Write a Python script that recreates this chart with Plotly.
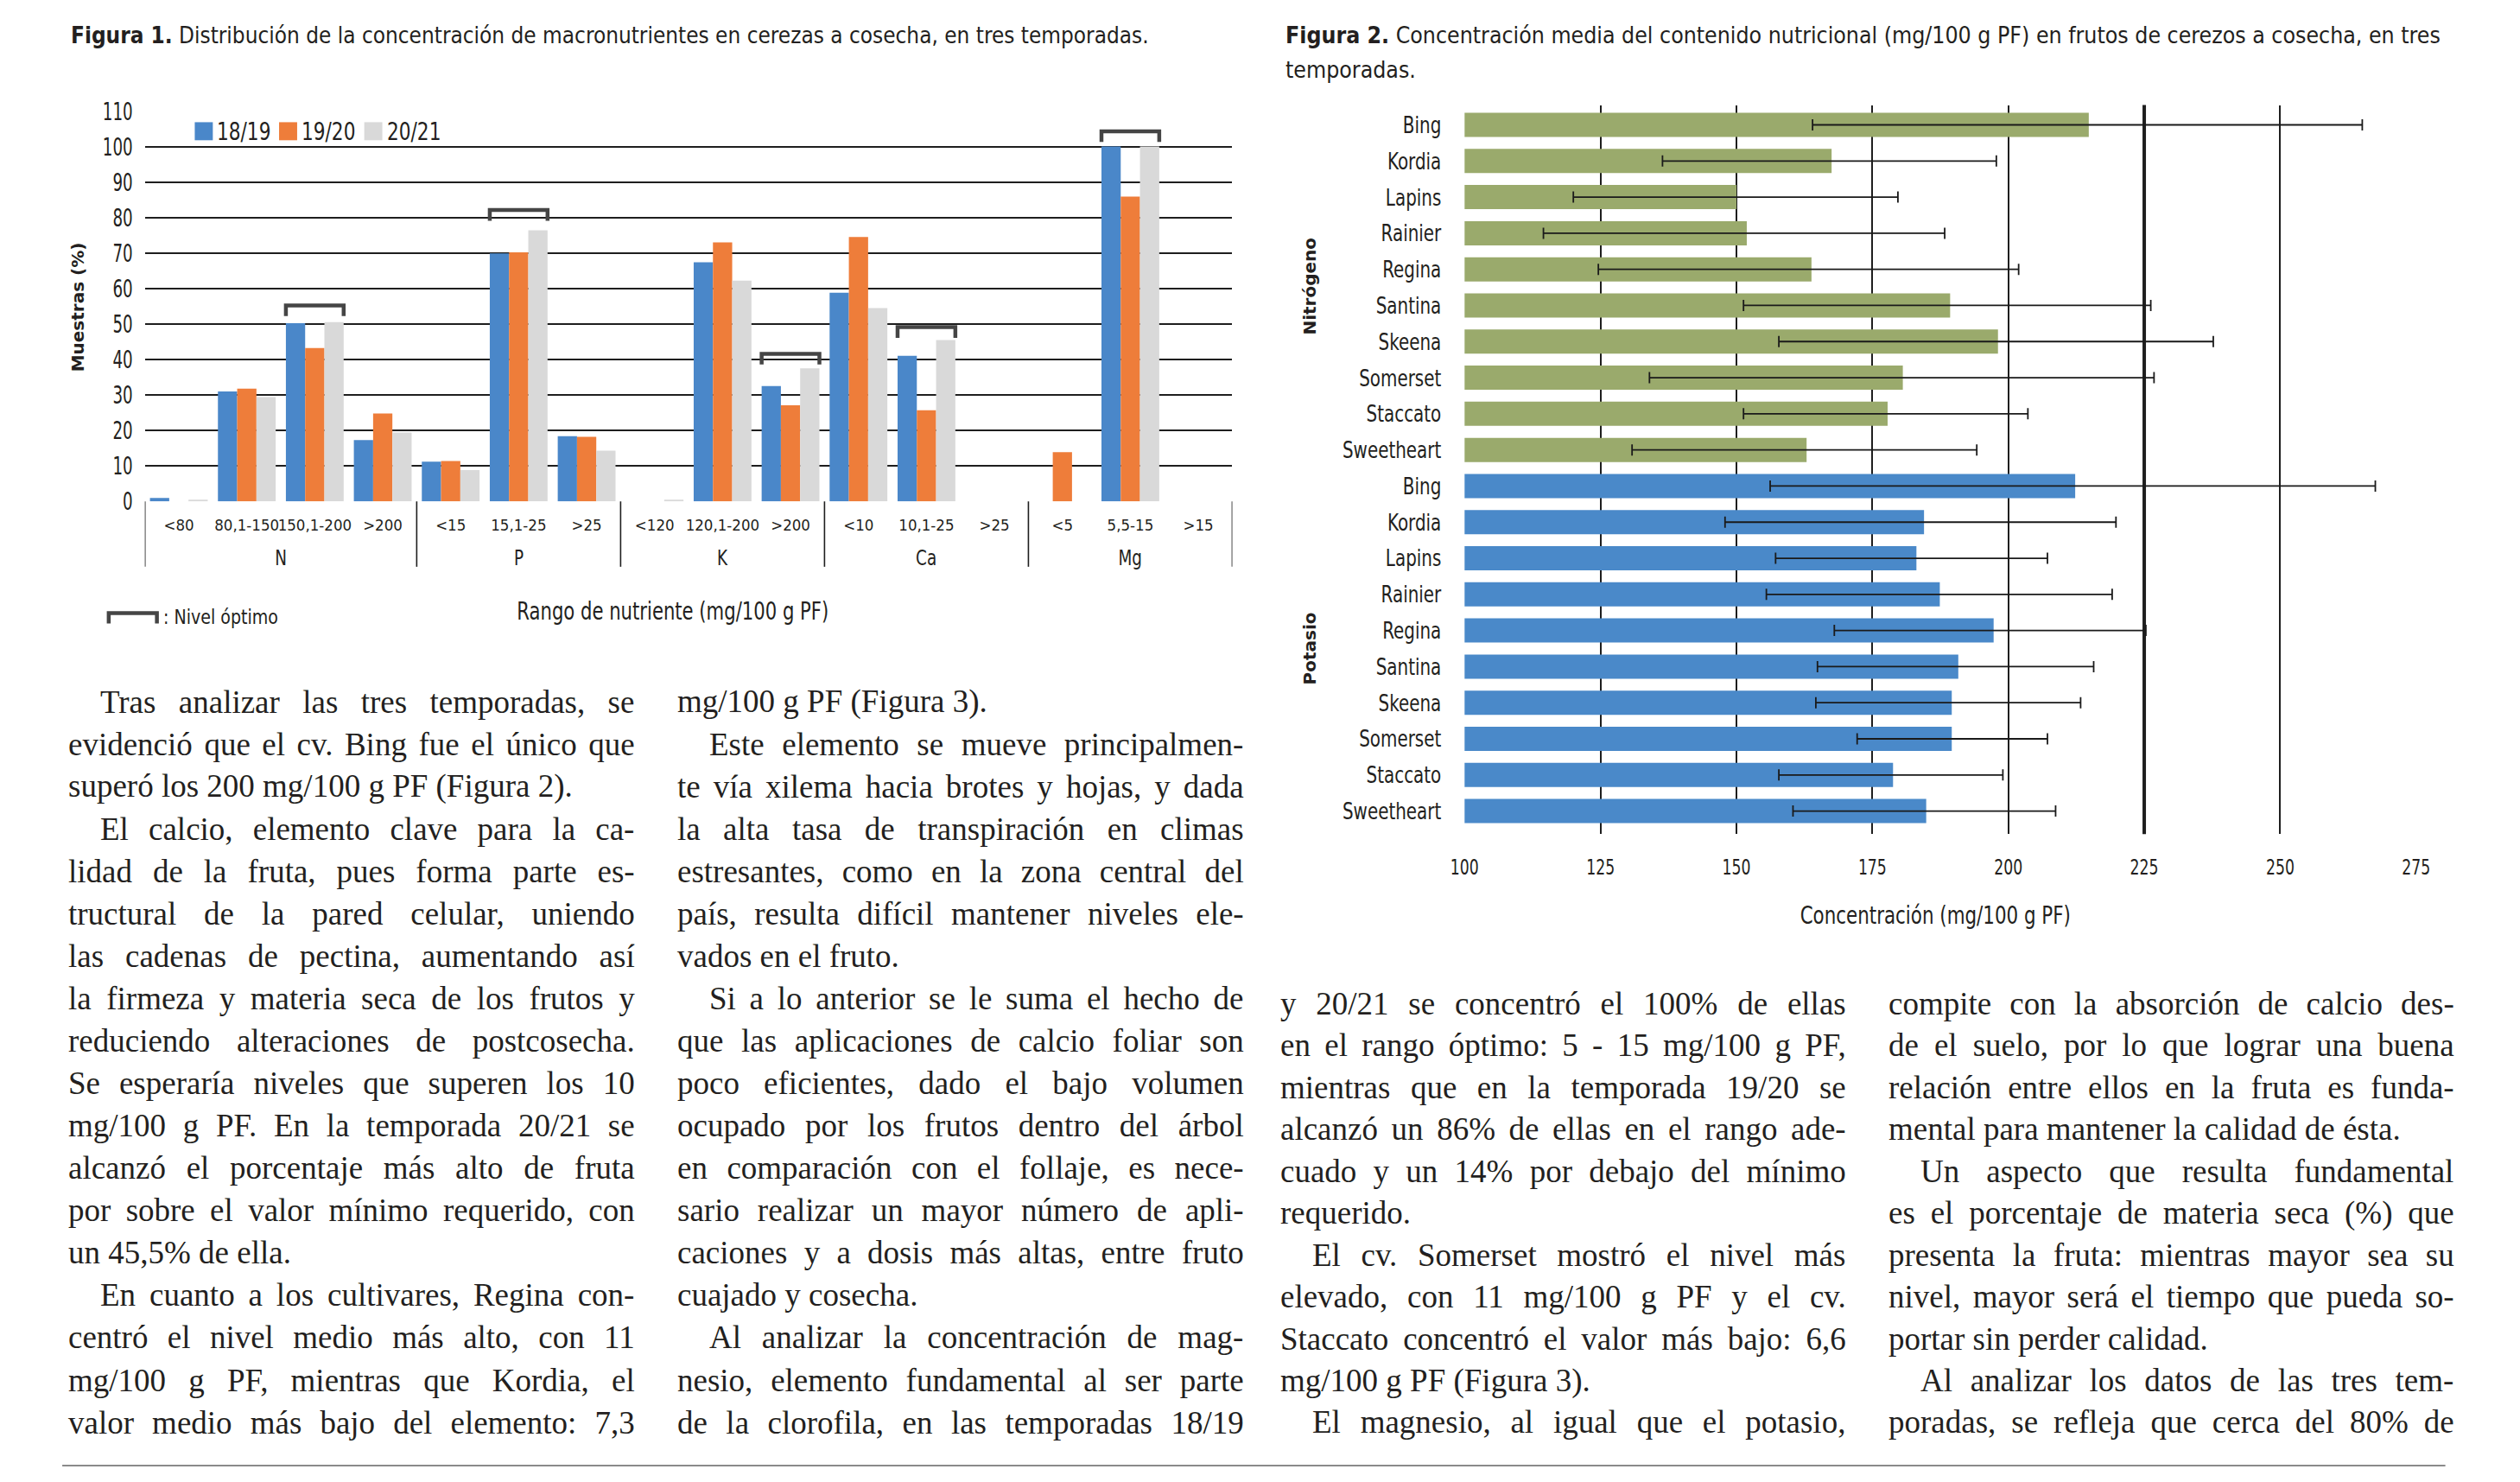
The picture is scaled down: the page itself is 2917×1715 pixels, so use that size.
import plotly.graph_objects as go

W, H = 2917, 1715
SANS = "DejaVu Sans Condensed, DejaVu Sans, sans-serif"
WIDE = "DejaVu Sans, Verdana, sans-serif"
SERIF = "Liberation Serif, Times New Roman, serif"
INK = "#231F20"
GRID = "#1E1E1E"


def cond(pct):
    # font family with a marker telling the page script how much to condense the text
    return f"{SANS}, cond-{pct}"


# page-position helpers: reference pixel -> paper fraction (small calibration of the capture)
def px_x(r):
    return 1.0104 * r - 18.9


def px_y(r):
    return min(1.0152 * r - 15.2, 1713)


def fx(r):
    return px_x(r) / W


def fy(r):
    return 1 - px_y(r) / H


# ---------------- Figure 1 data ----------------
sub_labels = ["<80", "80,1-150", "150,1-200", ">200",
              "<15", "15,1-25", ">25",
              "<120", "120,1-200", ">200",
              "<10", "10,1-25", ">25",
              "<5", "5,5-15", ">15"]
groups = ["N", "P", "K", "Ca", "Mg"]
group_sizes = [4, 3, 3, 3, 3]
seasons = ["18/19", "19/20", "20/21"]
season_colors = ["#4A87C9", "#EE7D3A", "#D9D9D9"]
s1819 = [1.0, 31.0, 50.2, 17.3, 11.2, 69.9, 18.4, 0.0, 67.4, 32.5, 58.8, 41.0, 0.0, 0.0, 100.0, 0.0]
s1920 = [0.0, 31.8, 43.2, 24.8, 11.4, 70.2, 18.2, 0.0, 73.0, 27.1, 74.5, 25.7, 0.0, 13.9, 85.9, 0.0]
s2021 = [0.5, 29.4, 50.5, 19.4, 8.8, 76.4, 14.3, 0.5, 62.2, 37.5, 54.5, 45.5, 0.0, 0.0, 100.0, 0.0]
opt_idx = [2, 5, 9, 11, 14]
opt_top = [55.2, 82.1, 41.6, 49.1, 104.3]

# ---------------- Figure 2 data ----------------
cultivars = ["Bing", "Kordia", "Lapins", "Rainier", "Regina", "Santina",
             "Skeena", "Somerset", "Staccato", "Sweetheart"]
nutrients2 = ["Nitrógeno", "Potasio"]
n_mean = [214.8, 167.5, 150.0, 151.9, 163.8, 189.3, 198.1, 180.6, 177.8, 162.9]
n_lo = [164.0, 136.4, 120.0, 114.5, 124.6, 151.3, 157.8, 134.0, 151.3, 130.8]
n_hi = [265.1, 197.8, 179.7, 188.3, 201.9, 226.2, 237.7, 226.8, 203.6, 194.2]
k_mean = [212.3, 184.5, 183.1, 187.4, 197.3, 190.8, 189.6, 189.6, 178.8, 184.9]
k_lo = [156.2, 147.9, 157.2, 155.5, 168.0, 164.9, 164.6, 172.2, 157.8, 160.4]
k_hi = [267.5, 219.8, 207.2, 219.1, 225.3, 215.7, 213.3, 207.2, 199.0, 208.7]
colors2 = ["#9AAA6C", "#4A89C9"]
ref_line = 225

# ---------------- Body text ----------------
col1 = [
    ["Tras analizar las tres temporadas, se",
     "evidenció que el cv. Bing fue el único que",
     "superó los 200 mg/100 g PF (Figura 2)."],
    ["El calcio, elemento clave para la ca-",
     "lidad de la fruta, pues forma parte es-",
     "tructural de la pared celular, uniendo",
     "las cadenas de pectina, aumentando así",
     "la firmeza y materia seca de los frutos y",
     "reduciendo alteraciones de postcosecha.",
     "Se esperaría niveles que superen los 10",
     "mg/100 g PF. En la temporada 20/21 se",
     "alcanzó el porcentaje más alto de fruta",
     "por sobre el valor mínimo requerido, con",
     "un 45,5% de ella."],
    ["En cuanto a los cultivares, Regina con-",
     "centró el nivel medio más alto, con 11",
     "mg/100 g PF, mientras que Kordia, el",
     "valor medio más bajo del elemento: 7,3"],
]
col2 = [
    ["mg/100 g PF (Figura 3)."],
    ["Este elemento se mueve principalmen-",
     "te vía xilema hacia brotes y hojas, y dada",
     "la alta tasa de transpiración en climas",
     "estresantes, como en la zona central del",
     "país, resulta difícil mantener niveles ele-",
     "vados en el fruto."],
    ["Si a lo anterior se le suma el hecho de",
     "que las aplicaciones de calcio foliar son",
     "poco eficientes, dado el bajo volumen",
     "ocupado por los frutos dentro del árbol",
     "en comparación con el follaje, es nece-",
     "sario realizar un mayor número de apli-",
     "caciones y a dosis más altas, entre fruto",
     "cuajado y cosecha."],
    ["Al analizar la concentración de mag-",
     "nesio, elemento fundamental al ser parte",
     "de la clorofila, en las temporadas 18/19"],
]
col3 = [
    ["y 20/21 se concentró el 100% de ellas",
     "en el rango óptimo: 5 - 15 mg/100 g PF,",
     "mientras que en la temporada 19/20 se",
     "alcanzó un 86% de ellas en el rango ade-",
     "cuado y un 14% por debajo del mínimo",
     "requerido."],
    ["El cv. Somerset mostró el nivel más",
     "elevado, con 11 mg/100 g PF y el cv.",
     "Staccato concentró el valor más bajo: 6,6",
     "mg/100 g PF (Figura 3)."],
    ["El magnesio, al igual que el potasio,"],
]
col4 = [
    ["compite con la absorción de calcio des-",
     "de el suelo, por lo que lograr una buena",
     "relación entre ellos en la fruta es funda-",
     "mental para mantener la calidad de ésta."],
    ["Un aspecto que resulta fundamental",
     "es el porcentaje de materia seca (%) que",
     "presenta la fruta: mientras mayor sea su",
     "nivel, mayor será el tiempo que pueda so-",
     "portar sin perder calidad."],
    ["Al analizar los datos de las tres tem-",
     "poradas, se refleja que cerca del 80% de"],
]
# (paragraphs, left px, right px, first line y, line step, first paragraph continues, last paragraph continues)
columns = [
    (col1, 75, 724, 814, 49.3, False, True),
    (col2, 783, 1432, 814, 49.3, True, True),
    (col3, 1484, 2132, 1165, 48.7, True, True),
    (col4, 2191, 2839, 1165, 48.7, True, True),
]

fig = go.Figure()

# ---------------- Figure 1 traces ----------------
x_idx = list(range(len(sub_labels)))
bar_w = 0.85 / 3
offsets = [-0.425, -0.425 + bar_w, -0.425 + 2 * bar_w]
for vals, name, col, off in zip([s1819, s1920, s2021], seasons, season_colors, offsets):
    fig.add_trace(go.Bar(
        x=x_idx, y=vals, name=name, marker=dict(color=col, line=dict(width=0)),
        width=bar_w, offset=off, xaxis="x", yaxis="y", showlegend=False,
        hoverinfo="skip"))

# ---------------- Figure 2 traces ----------------
y_n = list(range(10))
y_k = list(range(10, 20))
for ys, means, lo, hi, col, nm in [(y_n, n_mean, n_lo, n_hi, colors2[0], nutrients2[0]),
                                   (y_k, k_mean, k_lo, k_hi, colors2[1], nutrients2[1])]:
    fig.add_trace(go.Bar(
        y=ys, x=means, orientation="h", name=nm,
        marker=dict(color=col, line=dict(width=0)),
        width=0.67, offset=-0.335,
        error_x=dict(type="data", symmetric=False,
                     array=[h - m for h, m in zip(hi, means)],
                     arrayminus=[m - l for m, l in zip(means, lo)],
                     color="#1A1A1A", thickness=1.8, width=6.5),
        xaxis="x2", yaxis="y2", showlegend=False, hoverinfo="skip"))

shapes = []
annotations = []

# group separators and labels (Figure 1)
bounds = [-0.5]
for s in group_sizes:
    bounds.append(bounds[-1] + s)
for b in bounds:
    shapes.append(dict(type="line", xref="x", yref="paper", x0=b, x1=b,
                       y0=fy(581), y1=fy(657), line=dict(color=GRID, width=1.6)))
for g, a, b in zip(groups, bounds[:-1], bounds[1:]):
    annotations.append(dict(text=g, x=(a + b) / 2, xref="x", y=fy(647), yref="paper",
                            showarrow=False, font=dict(family=cond(85), size=24, color=INK),
                            xanchor="center", yanchor="middle"))

# optimum brackets
for i, top in zip(opt_idx, opt_top):
    x0 = i - 0.425
    x1 = i + 0.425
    shapes.append(dict(type="path", xref="x", yref="y",
                       path=f"M {x0},{top - 3} L {x0},{top} L {x1},{top} L {x1},{top - 3}",
                       line=dict(color="#454545", width=4.5)))

# legend (Figure 1)
leg_x = [224, 322, 421]
for lx, name, col in zip(leg_x, seasons, season_colors):
    shapes.append(dict(type="rect", xref="paper", yref="paper",
                       x0=fx(lx), x1=fx(lx + 21), y0=fy(161), y1=fy(140),
                       fillcolor=col, line=dict(width=0)))
    annotations.append(dict(text=name, x=fx(lx + 24), y=fy(151), xref="paper", yref="paper",
                            showarrow=False, xanchor="left", yanchor="middle", align="left",
                            font=dict(family=cond(86), size=28, color=INK)))

# "Nivel óptimo" key
shapes.append(dict(type="path", xref="paper", yref="paper",
                   path=f"M {fx(124)},{fy(723)} L {fx(124)},{fy(711)} L {fx(180)},{fy(711)} L {fx(180)},{fy(723)}",
                   line=dict(color="#454545", width=4.5)))
annotations.append(dict(text=": Nivel óptimo", x=fx(185), y=fy(715), xref="paper", yref="paper",
                        showarrow=False, xanchor="left", yanchor="middle", align="left",
                        font=dict(family=cond(92), size=23, color=INK)))

# titles
annotations.append(dict(text="<b>Figura 1.</b> Distribución de la concentración de macronutrientes en cerezas a cosecha, en tres temporadas.",
                        x=fx(78), y=fy(39), xref="paper", yref="paper", showarrow=False,
                        xanchor="left", yanchor="middle", align="left",
                        font=dict(family=cond(96), size=27, color=INK)))
annotations.append(dict(text="<b>Figura 2.</b> Concentración media del contenido nutricional (mg/100 g PF) en frutos de cerezos a cosecha, en tres",
                        x=fx(1490), y=fy(39), xref="paper", yref="paper", showarrow=False,
                        xanchor="left", yanchor="middle", align="left",
                        font=dict(family=cond(98), size=27, color=INK)))
annotations.append(dict(text="temporadas.",
                        x=fx(1490), y=fy(79), xref="paper", yref="paper", showarrow=False,
                        xanchor="left", yanchor="middle", align="left",
                        font=dict(family=cond(98), size=27, color=INK)))

# axis titles
annotations.append(dict(text="Muestras (%)", x=fx(88), y=fy(355), xref="paper", yref="paper",
                        showarrow=False, textangle=-90, xanchor="center", yanchor="middle",
                        font=dict(family=WIDE, size=20, color=INK, weight="bold")))
annotations.append(dict(text="Rango de nutriente (mg/100 g PF)", x=fx(780), y=fy(709), xref="paper", yref="paper",
                        showarrow=False, xanchor="center", yanchor="middle",
                        font=dict(family=cond(84), size=28, color=INK)))
annotations.append(dict(text="Concentración (mg/100 g PF)", x=fx(2247), y=fy(1063), xref="paper", yref="paper",
                        showarrow=False, xanchor="center", yanchor="middle",
                        font=dict(family=cond(85), size=28, color=INK)))
for nm, cy in zip(nutrients2, [331, 752]):
    annotations.append(dict(text=nm, x=fx(1520), y=fy(cy), xref="paper", yref="paper",
                            showarrow=False, textangle=-90, xanchor="center", yanchor="middle",
                            font=dict(family=WIDE, size=20, color=INK, weight="bold")))

# reference line at 225 (Figure 2)
shapes.append(dict(type="line", xref="x2", yref="y2 domain", x0=ref_line, x1=ref_line,
                   y0=0, y1=1, line=dict(color=GRID, width=4), layer="below"))

# bottom rule
shapes.append(dict(type="line", xref="paper", yref="paper", x0=fx(70), x1=fx(2840),
                   y0=fy(1708), y1=fy(1708), line=dict(color="#8A8A8A", width=2)))

# body text
INDENT = 37
for paras, left, right, y0, step, cont_first, cont_last in columns:
    row = 0
    for pi, para in enumerate(paras):
        for li, line in enumerate(para):
            indent = INDENT if (li == 0 and not (pi == 0 and cont_first)) else 0
            is_last = (li == len(para) - 1) and not (pi == len(paras) - 1 and cont_last)
            x0 = left + indent
            ann = dict(text=line, x=fx(x0), y=fy(y0 + step * row), xref="paper", yref="paper",
                       showarrow=False, xanchor="left", yanchor="middle", align="left",
                       font=dict(family=SERIF, size=37, color=INK))
            if not is_last:
                ann["name"] = f"justify:{px_x(right) - px_x(x0):.1f}"
            annotations.append(ann)
            row += 1

fig.update_layout(
    width=W, height=H, margin=dict(l=0, r=0, t=0, b=0),
    paper_bgcolor="white", plot_bgcolor="white",
    barmode="overlay", showlegend=False,
    shapes=shapes, annotations=annotations,
    xaxis=dict(domain=[fx(166), fx(1430)], range=[-0.5, 15.5], tickvals=x_idx, ticktext=sub_labels,
               tickangle=0, tickfont=dict(family=SANS, size=18.5, color=INK), showgrid=False,
               zeroline=False, showline=False, ticks="", ticklabelstandoff=14, anchor="y",
               fixedrange=True),
    yaxis=dict(domain=[fy(581), fy(127)], range=[0, 110], dtick=10, tick0=0, showgrid=True,
               gridcolor=GRID, gridwidth=1.6, zeroline=False, showline=False, ticks="",
               tickfont=dict(family=cond(70), size=29, color=INK), ticklabelstandoff=13,
               anchor="x", fixedrange=True),
    xaxis2=dict(domain=[fx(1700), fx(2806)], range=[100, 275], dtick=25, tick0=100, showgrid=True,
                gridcolor=GRID, gridwidth=1.6, zeroline=False, showline=False, ticks="",
                tickfont=dict(family=cond(80), size=24, color=INK), ticklabelstandoff=22,
                anchor="y2", fixedrange=True),
    yaxis2=dict(domain=[fy(968), fy(120)], range=[19.64, -0.55], tickvals=y_n + y_k,
                ticktext=cultivars + cultivars, showgrid=False, zeroline=False, showline=False,
                ticks="", tickfont=dict(family=cond(82), size=27, color=INK), ticklabelstandoff=26,
                anchor="x2", fixedrange=True),
)

JS = """
var gd = document.getElementById('{plot_id}');
document.body.style.margin = '0px';
document.body.style.padding = '0px';
document.documentElement.style.overflow = 'hidden';
function condenseTexts(){
  var texts = gd.querySelectorAll('text');
  for (var k = 0; k < texts.length; k++) {
    var t = texts[k];
    var ff = t.style.fontFamily || '';
    var m = ff.match(/cond-(\\d+)/);
    if (!m) continue;
    var f = parseInt(m[1], 10) / 100;
    t.removeAttribute('textLength');
    var len = t.getComputedTextLength();
    if (len > 0) {
      t.setAttribute('textLength', (len * f).toFixed(2));
      t.setAttribute('lengthAdjust', 'spacingAndGlyphs');
    }
  }
}
function justifyLines(){
  var anns = (gd.layout && gd.layout.annotations) || [];
  var nodes = gd.querySelectorAll('g.annotation');
  for (var k = 0; k < nodes.length; k++) {
    var g = nodes[k];
    var i = parseInt(g.getAttribute('data-index'), 10);
    var a = anns[i];
    if (!a || !a.name || String(a.name).indexOf('justify:') !== 0) continue;
    var target = parseFloat(String(a.name).split(':')[1]);
    var t = g.querySelector('text.annotation-text');
    if (!t) continue;
    t.style.wordSpacing = '0px';
    var len = t.getComputedTextLength();
    var n = (t.textContent.match(/[ \\u00a0]/g) || []).length;
    if (n > 0) t.style.wordSpacing = ((target - len) / n) + 'px';
  }
}
condenseTexts();
justifyLines();
"""

fig.write_html("out.html", config={"displayModeBar": False}, post_script=JS)
